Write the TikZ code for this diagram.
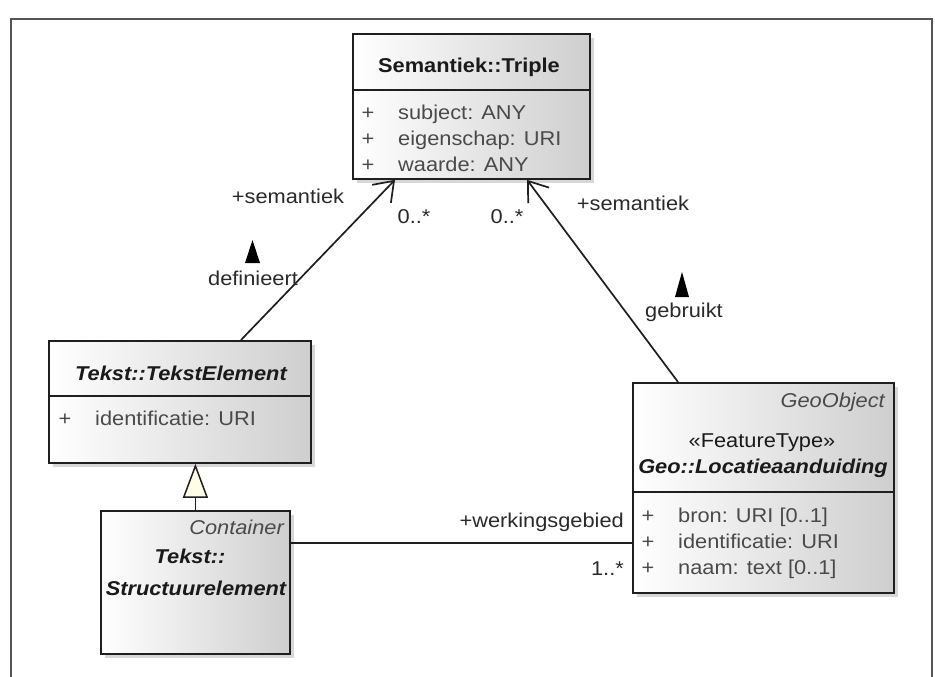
\documentclass[tikz,border=0pt]{standalone}
\usepackage{fontspec}
\setmainfont{Liberation Sans}[FakeStretch=1.09]
\usetikzlibrary{arrows.meta,calc,shadows}
\definecolor{attrcol}{HTML}{4A4A4A}
\definecolor{titlecol}{HTML}{1A1A1A}
\definecolor{labcol}{HTML}{2A2A2A}
\definecolor{genfill}{HTML}{FFFDE6}
\definecolor{framecol}{HTML}{555555}
\begin{document}
\begin{tikzpicture}[x=1pt,y=-1pt,
  font=\fontsize{20}{26}\selectfont,
  classbox/.style={draw=black!88, line width=1.8pt, left color=white, right color=black!19,
    inner sep=0pt, anchor=north west,
    drop shadow={shadow xshift=4pt, shadow yshift=-4pt, fill=black!22, opacity=0.7}},
  divider/.style={draw=black!88, line width=1.5pt},
  title/.style={anchor=base, inner sep=0pt, text=titlecol, font=\fontsize{20}{26}\selectfont\bfseries},
  attr/.style={anchor=base west, inner sep=0pt, text=attrcol},
  plus/.style={anchor=base, inner sep=0pt, text=attrcol},
  lab/.style={inner sep=0pt, text=labcol},
  conn/.style={draw=black!88, line width=1.7pt},
  navtip/.style={-{Straight Barb[length=18pt,width=26pt,line width=1.7pt]}},
  dirmark/.style={fill=black}
]
\useasboundingbox (0,0) rectangle (935,677);
\fill[white] (0,0) rectangle (935,677);
\draw[framecol, line width=1.2pt] (11,677) -- (11,19) -- (932,19) -- (932,677);

% Semantiek::Triple
\node[classbox, minimum width=237pt, minimum height=145pt] (triple) at (352,33) {};
\draw[divider] ($(triple.north west)+(0,57)$) -- ($(triple.north east)+(0,57)$);
\node[title] (tripleT) at (469,73) {Semantiek::Triple};
\node[plus] (tp1) at (368,119) {+};
\node[plus] (tp2) at (368,145) {+};
\node[plus] (tp3) at (368,171) {+};
\node[attr] (ta1) at (398,119) {subject: ANY};
\node[attr] (ta2) at (398,145) {eigenschap: URI};
\node[attr] (ta3) at (398,171) {waarde: ANY};

% Tekst::TekstElement
\node[classbox, minimum width=262pt, minimum height=122pt] (tekst) at (48,340) {};
\draw[divider] ($(tekst.north west)+(0,56)$) -- ($(tekst.north east)+(0,56)$);
\node[title, font=\fontsize{20}{26}\selectfont\bfseries\itshape] (tekstT) at (181,380) {Tekst::TekstElement};
\node[plus] (ep1) at (65,425) {+};
\node[attr] (ea1) at (95,425) {identificatie: URI};

% Tekst::Structuurelement
\node[classbox, minimum width=189pt, minimum height=143pt] (struct) at (100,510) {};
\node[anchor=base east, inner sep=0pt, text=attrcol, font=\fontsize{20}{26}\selectfont\itshape] (structS) at (284,534) {Container};
\node[title, font=\fontsize{20}{26}\selectfont\bfseries\itshape] (structT1) at (190,563) {Tekst::};
\node[title, font=\fontsize{20}{26}\selectfont\bfseries\itshape] (structT2) at (196,595) {Structuurelement};

% Geo::Locatieaanduiding
\node[classbox, minimum width=261pt, minimum height=210pt] (geo) at (632,382) {};
\draw[divider] ($(geo.north west)+(0,110)$) -- ($(geo.north east)+(0,110)$);
\node[anchor=base east, inner sep=0pt, text=attrcol, font=\fontsize{20}{26}\selectfont\itshape] (geoS) at (885,407) {GeoObject};
\node[anchor=base, inner sep=0pt, text=titlecol] (geoST) at (762,447) {«FeatureType»};
\node[title, font=\fontsize{20}{26}\selectfont\bfseries\itshape] (geoT) at (763,473) {Geo::Locatieaanduiding};
\node[plus] (gp1) at (648,522) {+};
\node[plus] (gp2) at (648,548) {+};
\node[plus] (gp3) at (648,574) {+};
\node[attr] (ga1) at (678,522) {bron: URI [0..1]};
\node[attr] (ga2) at (678,548) {identificatie: URI};
\node[attr] (ga3) at (678,574) {naam: text [0..1]};

% connectors
\draw[conn, navtip] ($(tekst.north west)+(193,0)$) -- ($(triple.south west)+(43,0)$);
\draw[conn, navtip] ($(geo.north west)+(46,0)$) -- ($(triple.south west)+(175,0)$);
\draw[conn, -{Triangle[length=34pt,width=25pt,fill=genfill,line width=1.5pt]}]
  (struct.north) -- (struct.north |- tekst.south);
\draw[conn] ($(struct.north east)+(0,33)$) -- ($(geo.north west)+(0,161)$);

% labels
\node[lab, anchor=base] (l1) at (288,203) {+semantiek};
\node[lab, anchor=base] (l2) at (414,223) {0..*};
\node[lab, anchor=base] (l3) at (507,223) {0..*};
\node[lab, anchor=base] (l4) at (633,210) {+semantiek};
\fill[dirmark] (245,263) -- (260,263) -- (252.5,240) -- cycle;
\node[lab, anchor=base] (l5) at (253,285) {definieert};
\fill[dirmark] (675,297) -- (689,297) -- (682,272) -- cycle;
\node[lab, anchor=base] (l6) at (684,317) {gebruikt};
\node[lab, anchor=base east] (l7) at (624,527) {+werkingsgebied};
\node[lab, anchor=base east] (l8) at (624,575) {1..*};
\end{tikzpicture}
\end{document}
